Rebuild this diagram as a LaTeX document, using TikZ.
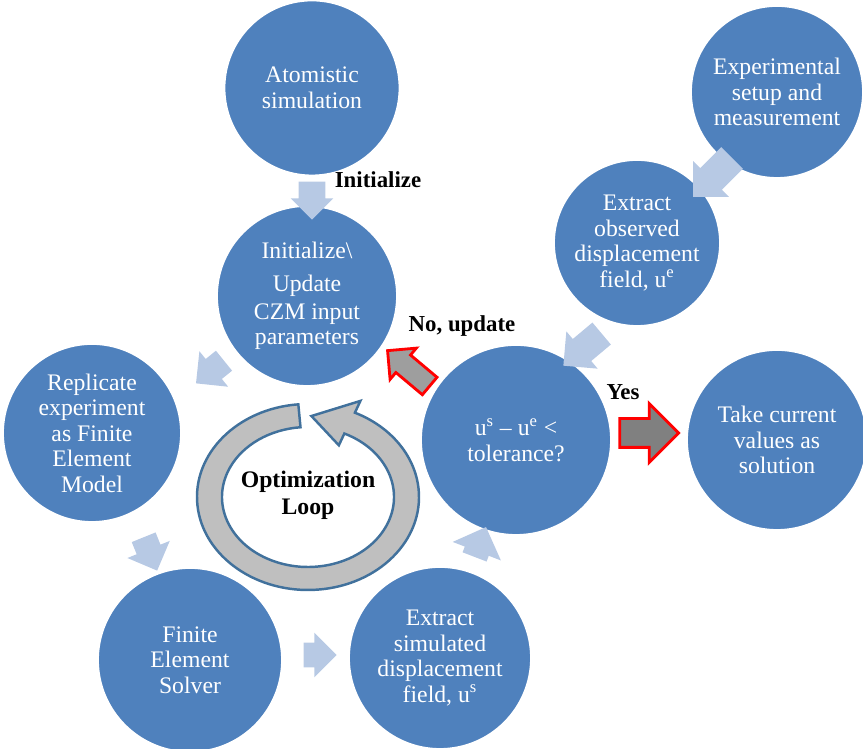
\documentclass[tikz,border=0pt]{standalone}
\usepackage{fontspec}
\setmainfont{Liberation Serif}
\usepackage{tikz}
\usetikzlibrary{shapes.arrows, calc}
\definecolor{stageblue}{HTML}{4F81BD}
\definecolor{flowblue}{HTML}{B7C9E4}
\definecolor{ringline}{HTML}{41719C}

\begin{document}
\begin{tikzpicture}[x=0.02cm, y=0.02cm, font=\fontsize{13.5}{14.5}\selectfont]
\tikzstyle{stage} = [circle, fill=stageblue, draw=white, line width=1pt, text=white, align=center, inner sep=0pt, minimum size=3.55cm]
\tikzstyle{flow} = [single arrow, fill=flowblue, inner xsep=0pt, inner ysep=0.25cm, single arrow head extend=0.2cm, minimum height=0.72cm]
\tikzstyle{decision} = [single arrow, draw=red, line width=1.6pt, inner xsep=0pt]
\tikzstyle{tag} = [font=\fontsize{13}{14}\selectfont\bfseries]
\tikzstyle{ring} = [fill=black!25, draw=ringline, line width=1.4pt, line join=miter]

\useasboundingbox (0,0) rectangle (863,749);

\node (atomistic) [stage, minimum size=3.5cm] at (312,661) {Atomistic\\simulation};
\node (update) [stage, minimum size=3.6cm] at (307,453) {Initialize\textbackslash\\[4pt]Update\\[1.5pt]CZM input\\parameters};
\node (experiment) [stage, minimum size=3.44cm] at (777,657) {Experimental\\setup and\\measurement};
\node (observed) [stage, minimum size=3.32cm] at (637,506) {Extract\\observed\\displacement\\field, u\textsuperscript{e}};
\node (tolerance) [stage, minimum size=3.8cm] at (516,309) {u\textsuperscript{s} -- u\textsuperscript{e} <\\tolerance?};
\node (solution) [stage, minimum size=3.6cm] at (777,309) {Take current\\values as\\solution};
\node (replicate) [stage, minimum size=3.56cm] at (92,316) {Replicate\\experiment\\as Finite\\Element\\Model};
\node (solver) [stage, minimum size=3.68cm] at (190,89) {Finite\\Element\\Solver};
\node (simulated) [stage, minimum size=3.64cm] at (440,91) {Extract\\simulated\\displacement\\field, u\textsuperscript{s}};

% flow arrows round the cycle
\node (flowA) [flow, rotate=-90, minimum height=0.76cm, inner ysep=0.26cm, single arrow head extend=0.16cm] at (312,555) {};
\node (flowB) [flow, rotate=219] at (215,381) {};
\node (flowC) [flow, rotate=292] at (148,201) {};
\node (flowD) [flow, minimum height=0.66cm, inner ysep=0.24cm] at (314,94) {};
\node (flowE) [flow, rotate=69, minimum height=0.64cm, single arrow head extend=0.26cm] at (478,201) {};
\node (flowF) [flow, rotate=225, minimum height=1.1cm, inner ysep=0.3cm] at (718,577) {};
\node (flowG) [flow, rotate=220, minimum height=1cm, inner ysep=0.28cm] at (588,404) {};

% decision arrows
\node (noarrow) [decision, fill=black!38, rotate=140, minimum height=1.1cm, inner ysep=0.2cm, single arrow head extend=0.18cm] at (413,377) {};
\node (yesarrow) [decision, fill=black!50, minimum height=1.18cm, inner ysep=0.26cm, single arrow head extend=0.3cm] at (642,316) {};

% optimization loop
\coordinate (loopc) at (308,252);
\draw [ring] ($(loopc)+(95:111 and 93)$) arc[start angle=95, end angle=425, x radius=111, y radius=93]
  -- ($(loopc)+(425:124 and 106)$) -- ($(loopc)+(88:98 and 81)$) -- ($(loopc)+(425:73 and 57)$)
  -- ($(loopc)+(425:86 and 70)$) arc[start angle=425, end angle=95, x radius=86, y radius=70] -- cycle;

\node (looplabel) [tag, align=center, font=\fontsize{13.5}{15.5}\selectfont\bfseries] at (308,254) {Optimization\\Loop};
\node (initlabel) [tag] at (378,569) {Initialize};
\node (nolabel) [tag] at (462,423) {No, update};
\node (yeslabel) [tag] at (623,357) {Yes};
\end{tikzpicture}
\end{document}
